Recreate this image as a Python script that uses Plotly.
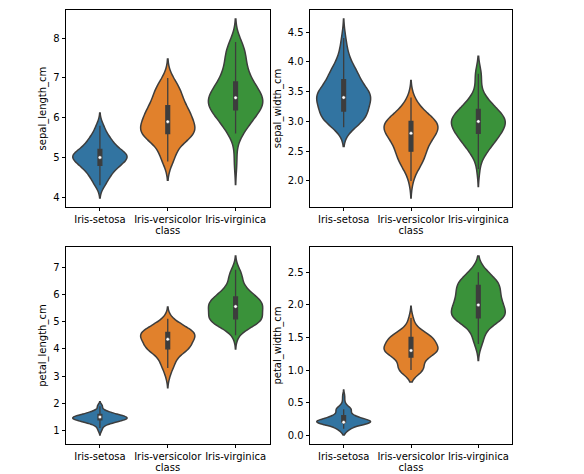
import numpy as np
import plotly.graph_objects as go

classes = ["Iris-setosa", "Iris-versicolor", "Iris-virginica"]
features = ["sepal_length_cm", "sepal_width_cm", "petal_length_cm", "petal_width_cm"]

# cleaned iris data (setosa row with sepal width 2.3 removed, missing petal widths filled with the mean)
setosa_sepal_length = [5.1,4.9,4.7,4.6,5.0,5.4,4.6,5.0,4.4,4.9,5.4,4.8,4.8,4.3,5.8,5.7,5.4,5.1,5.7,5.1,5.4,5.1,4.6,5.1,4.8,5.0,5.0,5.2,5.2,4.7,4.8,5.4,5.2,5.5,4.9,5.0,5.5,4.9,4.4,5.1,5.0,4.4,5.0,5.1,4.8,5.1,4.6,5.3,5.0]
setosa_sepal_width = [3.5,3.0,3.2,3.1,3.6,3.9,3.4,3.4,2.9,3.1,3.7,3.4,3.0,3.0,4.0,4.4,3.9,3.5,3.8,3.8,3.4,3.7,3.6,3.3,3.4,3.0,3.4,3.5,3.4,3.2,3.1,3.4,4.1,4.2,3.1,3.2,3.5,3.1,3.0,3.4,3.5,3.2,3.5,3.8,3.0,3.8,3.2,3.7,3.3]
setosa_petal_length = [1.4,1.4,1.3,1.5,1.4,1.7,1.4,1.5,1.4,1.5,1.5,1.6,1.4,1.1,1.2,1.5,1.3,1.4,1.7,1.5,1.7,1.5,1.0,1.7,1.9,1.6,1.6,1.5,1.4,1.6,1.6,1.5,1.5,1.4,1.5,1.2,1.3,1.5,1.3,1.5,1.3,1.3,1.6,1.9,1.4,1.6,1.4,1.5,1.4]
setosa_petal_width = [0.2,0.2,0.2,0.2,0.2,0.4,0.3,0.25,0.25,0.25,0.25,0.25,0.1,0.1,0.2,0.4,0.4,0.3,0.3,0.3,0.2,0.4,0.2,0.5,0.2,0.2,0.4,0.2,0.2,0.2,0.2,0.4,0.1,0.2,0.1,0.2,0.2,0.1,0.2,0.2,0.3,0.2,0.6,0.4,0.3,0.2,0.2,0.2,0.2]

versicolor_sepal_length = [7.0,6.4,6.9,5.5,6.5,5.7,6.3,4.9,6.6,5.2,5.0,5.9,6.0,6.1,5.6,6.7,5.6,5.8,6.2,5.6,5.9,6.1,6.3,6.1,6.4,6.6,6.8,6.7,6.0,5.7,5.5,5.5,5.8,6.0,5.4,6.0,6.7,6.3,5.6,5.5,5.5,6.1,5.8,5.0,5.6,5.7,5.7,6.2,5.1,5.7]
versicolor_sepal_width = [3.2,3.2,3.1,2.3,2.8,2.8,3.3,2.4,2.9,2.7,2.0,3.0,2.2,2.9,2.9,3.1,3.0,2.7,2.2,2.5,3.2,2.8,2.5,2.8,2.9,3.0,2.8,3.0,2.9,2.6,2.4,2.4,2.7,2.7,3.0,3.4,3.1,2.3,3.0,2.5,2.6,3.0,2.6,2.3,2.7,3.0,2.9,2.9,2.5,2.8]
versicolor_petal_length = [4.7,4.5,4.9,4.0,4.6,4.5,4.7,3.3,4.6,3.9,3.5,4.2,4.0,4.7,3.6,4.4,4.5,4.1,4.5,3.9,4.8,4.0,4.9,4.7,4.3,4.4,4.8,5.0,4.5,3.5,3.8,3.7,3.9,5.1,4.5,4.5,4.7,4.4,4.1,4.0,4.4,4.6,4.0,3.3,4.2,4.2,4.2,4.3,3.0,4.1]
versicolor_petal_width = [1.4,1.5,1.5,1.3,1.5,1.3,1.6,1.0,1.3,1.4,1.0,1.5,1.0,1.4,1.3,1.4,1.5,1.0,1.5,1.1,1.8,1.3,1.5,1.2,1.3,1.4,1.4,1.7,1.5,1.0,1.1,1.0,1.2,1.6,1.5,1.6,1.5,1.3,1.3,1.3,1.2,1.4,1.2,1.0,1.3,1.2,1.3,1.3,1.1,1.3]

virginica_sepal_length = [6.3,5.8,7.1,6.3,6.5,7.6,4.9,7.3,6.7,7.2,6.5,6.4,6.8,5.7,5.8,6.4,6.5,7.7,7.7,6.0,6.9,5.6,7.7,6.3,6.7,7.2,6.2,6.1,6.4,7.2,7.4,7.9,6.4,6.3,6.1,7.7,6.3,6.4,6.0,6.9,6.7,6.9,5.8,6.8,6.7,6.7,6.3,6.5,6.2,5.9]
virginica_sepal_width = [3.3,2.7,3.0,2.9,3.0,3.0,2.5,2.9,2.5,3.6,3.2,2.7,3.0,2.5,2.8,3.2,3.0,3.8,2.6,2.2,3.2,2.8,2.8,2.7,3.3,3.2,2.8,3.0,2.8,3.0,2.8,3.8,2.8,2.8,2.6,3.0,3.4,3.1,3.0,3.1,3.1,3.1,2.7,3.2,3.3,3.0,2.5,3.0,3.4,3.0]
virginica_petal_length = [6.0,5.1,5.9,5.6,5.8,6.6,4.5,6.3,5.8,6.1,5.1,5.3,5.5,5.0,5.1,5.3,5.5,6.7,6.9,5.0,5.7,4.9,6.7,4.9,5.7,6.0,4.8,4.9,5.6,5.8,6.1,6.4,5.6,5.1,5.6,6.1,5.6,5.5,4.8,5.4,5.6,5.1,5.1,5.9,5.7,5.2,5.0,5.2,5.4,5.1]
virginica_petal_width = [2.5,1.9,2.1,1.8,2.2,2.1,1.7,1.8,1.8,2.5,2.0,1.9,2.1,2.0,2.4,2.3,1.8,2.2,2.3,1.5,2.3,2.0,2.0,1.8,2.1,1.8,1.8,1.8,2.1,1.6,1.9,2.0,2.2,1.5,1.4,2.3,2.4,1.8,1.8,2.1,2.4,2.3,1.9,2.3,2.5,2.3,1.9,2.0,2.3,1.8]

data = {
    "sepal_length_cm": [setosa_sepal_length, versicolor_sepal_length, virginica_sepal_length],
    "sepal_width_cm": [setosa_sepal_width, versicolor_sepal_width, virginica_sepal_width],
    "petal_length_cm": [setosa_petal_length, versicolor_petal_length, virginica_petal_length],
    "petal_width_cm": [setosa_petal_width, versicolor_petal_width, virginica_petal_width],
}

colors = ["#3274A1", "#E1812C", "#3A923A"]
edge = "#3d3d3d"

W, H = 584, 474
col_px = [(66, 269.5), (310, 512)]
row_px = [(10, 207), (247, 444)]
tickfmt = {"sepal_length_cm": "d", "sepal_width_cm": ".1f", "petal_length_cm": "d", "petal_width_cm": ".1f"}
dticks = {"sepal_length_cm": 1, "sepal_width_cm": 0.5, "petal_length_cm": 1, "petal_width_cm": 0.5}

fig = go.Figure()
layout = {}
font = dict(family="DejaVu Sans", size=10, color="black")

for i, feat in enumerate(features):
    r, c = divmod(i, 2)
    ax = "" if i == 0 else str(i + 1)
    xref, yref = "x" + ax, "y" + ax
    lo_all, hi_all = [], []
    for k, cls in enumerate(classes):
        y = np.array(data[feat][k])
        bw = y.std(ddof=1) * len(y) ** (-0.2)
        lo_all.append(y.min() - 2 * bw)
        hi_all.append(y.max() + 2 * bw)
        fig.add_trace(go.Violin(
            x=[cls] * len(y), y=y, xaxis=xref, yaxis=yref,
            bandwidth=bw, spanmode="soft", width=0.8,
            scalegroup=feat, scalemode="width",
            fillcolor=colors[k], line=dict(color=edge, width=1.5), opacity=1,
            points=False, showlegend=False,
            box=dict(visible=True, width=0.07, fillcolor=edge, line=dict(color=edge, width=1.3)),
            meanline=dict(visible=False),
        ))
        fig.add_trace(go.Scatter(
            x=[cls], y=[float(np.median(y))], xaxis=xref, yaxis=yref, mode="markers",
            marker=dict(color="white", size=3.5, line=dict(color=edge, width=0.5)),
            showlegend=False, hoverinfo="skip",
        ))
    lo, hi = min(lo_all), max(hi_all)
    pad = 0.05 * (hi - lo)
    x0, x1 = col_px[c]
    t, b = row_px[r]
    layout["xaxis" + ax] = dict(
        domain=[x0 / W, x1 / W], anchor=yref, type="category",
        categoryorder="array", categoryarray=classes, range=[-0.5, 2.5],
        showline=True, mirror=True, linecolor="black", linewidth=0.8,
        ticks="outside", ticklen=3.5, tickwidth=0.8, tickcolor="black",
        showgrid=False, zeroline=False, tickfont=font,
        title=dict(text="class", font=font, standoff=1),
    )
    layout["yaxis" + ax] = dict(
        domain=[1 - b / H, 1 - t / H], anchor=xref, range=[lo - pad, hi + pad],
        dtick=dticks[feat], tickformat=tickfmt[feat],
        showline=True, mirror=True, linecolor="black", linewidth=0.8,
        ticks="outside", ticklen=3.5, tickwidth=0.8, tickcolor="black",
        showgrid=False, zeroline=False, tickfont=font,
        title=dict(text=feat, font=font, standoff=4),
    )

fig.update_layout(
    width=W, height=H, margin=dict(l=0, r=0, t=0, b=0),
    plot_bgcolor="white", paper_bgcolor="white", violinmode="overlay",
    font=font, **layout,
)
fig.write_html(
    "out.html",
    config={"displayModeBar": False},
    post_script="document.body.style.margin='0';document.body.style.overflow='hidden';",
)
